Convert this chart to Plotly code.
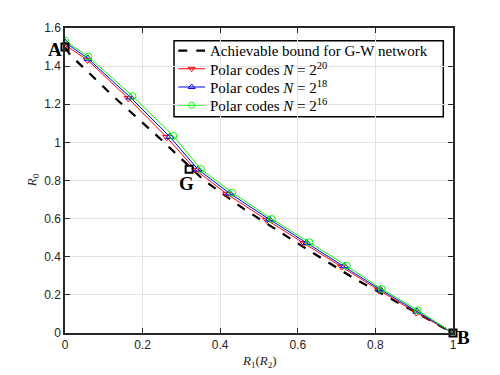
"""Región alcanzable G-W: cota vs. códigos polares."""

import plotly.graph_objects as go

# Cota alcanzable (curva discontinua negra)
bound_x = [0, 0.013, 0.12, 0.245, 0.32, 0.356, 0.46, 0.528, 0.614, 0.743, 0.786, 0.923, 1.0]
bound_y = [1.5, 1.46, 1.25, 1.02, 0.875, 0.805, 0.652, 0.562, 0.452, 0.289, 0.240, 0.085, 0]

# Códigos polares
x_20 = [0, 0.058, 0.163, 0.262, 0.337, 0.417, 0.520, 0.616, 0.713, 0.808, 0.905, 1.0]
y_20 = [1.511, 1.432, 1.231, 1.027, 0.855, 0.729, 0.593, 0.470, 0.348, 0.226, 0.107, 0]
x_18 = [0, 0.059, 0.168, 0.270, 0.343, 0.424, 0.527, 0.623, 0.720, 0.812, 0.907, 1.0]
y_18 = [1.525, 1.440, 1.237, 1.030, 0.858, 0.733, 0.596, 0.473, 0.351, 0.229, 0.113, 0]
x_16 = [0, 0.060, 0.174, 0.279, 0.350, 0.431, 0.533, 0.630, 0.726, 0.816, 0.909, 1.0]
y_16 = [1.534, 1.450, 1.243, 1.034, 0.860, 0.736, 0.598, 0.476, 0.353, 0.231, 0.119, 0]

# Puntos esquina A, G, B
corner_names = ["A", "G", "B"]
corner_x = [0, 0.32, 1.0]
corner_y = [1.5, 0.859, 0]

x_ticks = [0, 0.2, 0.4, 0.6, 0.8, 1]
y_ticks = [0, 0.2, 0.4, 0.6, 0.8, 1, 1.2, 1.4, 1.6]

legend_names = [
    "Achievable bound for G-W network",
    "Polar codes <i>N</i> = 2<sup>20</sup>",
    "Polar codes <i>N</i> = 2<sup>18</sup>",
    "Polar codes <i>N</i> = 2<sup>16</sup>",
]

SERIF = "Liberation Serif, Times New Roman, serif"
SANS = "Liberation Sans, Helvetica, Arial, sans-serif"
AXIS = "#262626"
X_MAX, Y_MAX = 1.0, 1.6

styles = [
    dict(color="black", dash="dash", width=2.2, symbol=None),
    dict(color="#ff0000", dash="solid", width=1, symbol="triangle-down-open"),
    dict(color="#0000ff", dash="solid", width=1, symbol="triangle-up-open"),
    dict(color="#00ff00", dash="solid", width=1, symbol="circle-open"),
]

fig = go.Figure()
fig.add_trace(go.Scatter(
    x=bound_x, y=bound_y, mode="lines",
    line=dict(color="black", width=2.2, dash="dash"),
    name=legend_names[0],
))
for xs, ys, st, name in zip([x_20, x_18, x_16], [y_20, y_18, y_16], styles[1:], legend_names[1:]):
    fig.add_trace(go.Scatter(
        x=xs, y=ys, mode="lines+markers",
        line=dict(color=st["color"], width=st["width"]),
        marker=dict(symbol=st["symbol"], size=7, color=st["color"],
                    line=dict(width=1, color=st["color"])),
        name=name,
    ))
fig.add_trace(go.Scatter(
    x=corner_x, y=corner_y, mode="markers",
    marker=dict(symbol="square-open", size=7, color="black", line=dict(width=2, color="black")),
    showlegend=False, cliponaxis=False,
))

# Etiquetas de las esquinas (en coordenadas de papel: A y B quedan fuera del rango)
offsets = {"A": (-0.026, -0.015), "G": (-0.006, -0.074), "B": (0.026, -0.021)}
for name, cx, cy in zip(corner_names, corner_x, corner_y):
    dx, dy = offsets[name]
    fig.add_annotation(
        x=(cx + dx) / X_MAX, y=(cy + dy) / Y_MAX, xref="paper", yref="paper",
        text=f"<b>{name}</b>", showarrow=False,
        font=dict(family=SERIF, size=19, color="black"),
        xanchor="center", yanchor="middle",
    )

# Leyenda compacta dibujada a mano (la nativa deja filas demasiado altas)
LEG_X0, LEG_X1, LEG_Y0, LEG_Y1 = 0.281, 0.975, 0.709, 0.958
ROW_TOP, ROW_STEP = 0.926, 0.0597
SAMPLE_X0, SAMPLE_X1, TEXT_X = 0.292, 0.361, 0.368
fig.add_shape(type="rect", xref="paper", yref="paper",
              x0=LEG_X0, x1=LEG_X1, y0=LEG_Y0, y1=LEG_Y1,
              line=dict(color="black", width=1.5), fillcolor="white", layer="between")
for i, (name, st) in enumerate(zip(legend_names, styles)):
    ry = ROW_TOP - i * ROW_STEP
    fig.add_shape(type="line", xref="paper", yref="paper",
                  x0=SAMPLE_X0, x1=SAMPLE_X1, y0=ry, y1=ry, layer="between",
                  line=dict(color=st["color"], width=st["width"], dash=st["dash"]))
    fig.add_annotation(
        x=TEXT_X, y=ry, xref="paper", yref="paper", xanchor="left", yanchor="middle",
        text=name, showarrow=False, font=dict(family=SERIF, size=15, color="black"),
    )
    if st["symbol"]:
        fig.add_trace(go.Scatter(
            x=[(SAMPLE_X0 + SAMPLE_X1) / 2 * X_MAX], y=[ry * Y_MAX], mode="markers",
            xaxis="x2", yaxis="y2",
            marker=dict(symbol=st["symbol"], size=6, color=st["color"],
                        line=dict(width=1, color=st["color"])),
            showlegend=False, hoverinfo="skip",
        ))

# Títulos de ejes como anotaciones para fijar la posición
fig.add_annotation(
    x=0.5, y=-0.095, xref="paper", yref="paper", yanchor="middle",
    text="<i>R</i><sub>1</sub>(<i>R</i><sub>2</sub>)", showarrow=False,
    font=dict(family=SERIF, size=13, color=AXIS),
)
fig.add_annotation(
    x=-0.083, y=0.5, xref="paper", yref="paper", xanchor="center",
    text="<i>R</i><sub>0</sub>", showarrow=False, textangle=-90,
    font=dict(family=SERIF, size=13, color=AXIS),
)

# El cuerpo de la página añade 8 px arriba y a la izquierda
fig.update_layout(
    width=500, height=375,
    margin=dict(l=57, r=55, t=20, b=50, autoexpand=False),
    paper_bgcolor="white", plot_bgcolor="white",
    showlegend=False,
    xaxis2=dict(range=[0, X_MAX], overlaying="x", visible=False, fixedrange=True),
    yaxis2=dict(range=[0, Y_MAX], overlaying="y", visible=False, fixedrange=True),
)
fig.update_xaxes(
    range=[0, X_MAX], tickvals=x_ticks, ticktext=[f"{v:g}" for v in x_ticks],
    showgrid=True, gridcolor="#e3e3e3", gridwidth=1,
    showline=True, linecolor=AXIS, linewidth=1.5, mirror="ticks",
    ticks="inside", ticklen=5, tickcolor=AXIS,
    tickfont=dict(family=SANS, size=12, color=AXIS),
    zeroline=False, automargin=False, selector=dict(overlaying=None),
)
fig.update_yaxes(
    range=[0, Y_MAX], tickvals=y_ticks, ticktext=[f"{v:g}" for v in y_ticks],
    showgrid=True, gridcolor="#e3e3e3", gridwidth=1,
    showline=True, linecolor=AXIS, linewidth=1.5, mirror="ticks",
    ticks="inside", ticklen=5, tickcolor=AXIS,
    tickfont=dict(family=SANS, size=12, color=AXIS),
    zeroline=False, automargin=False, selector=dict(overlaying=None),
)

fig.write_html("out.html")
